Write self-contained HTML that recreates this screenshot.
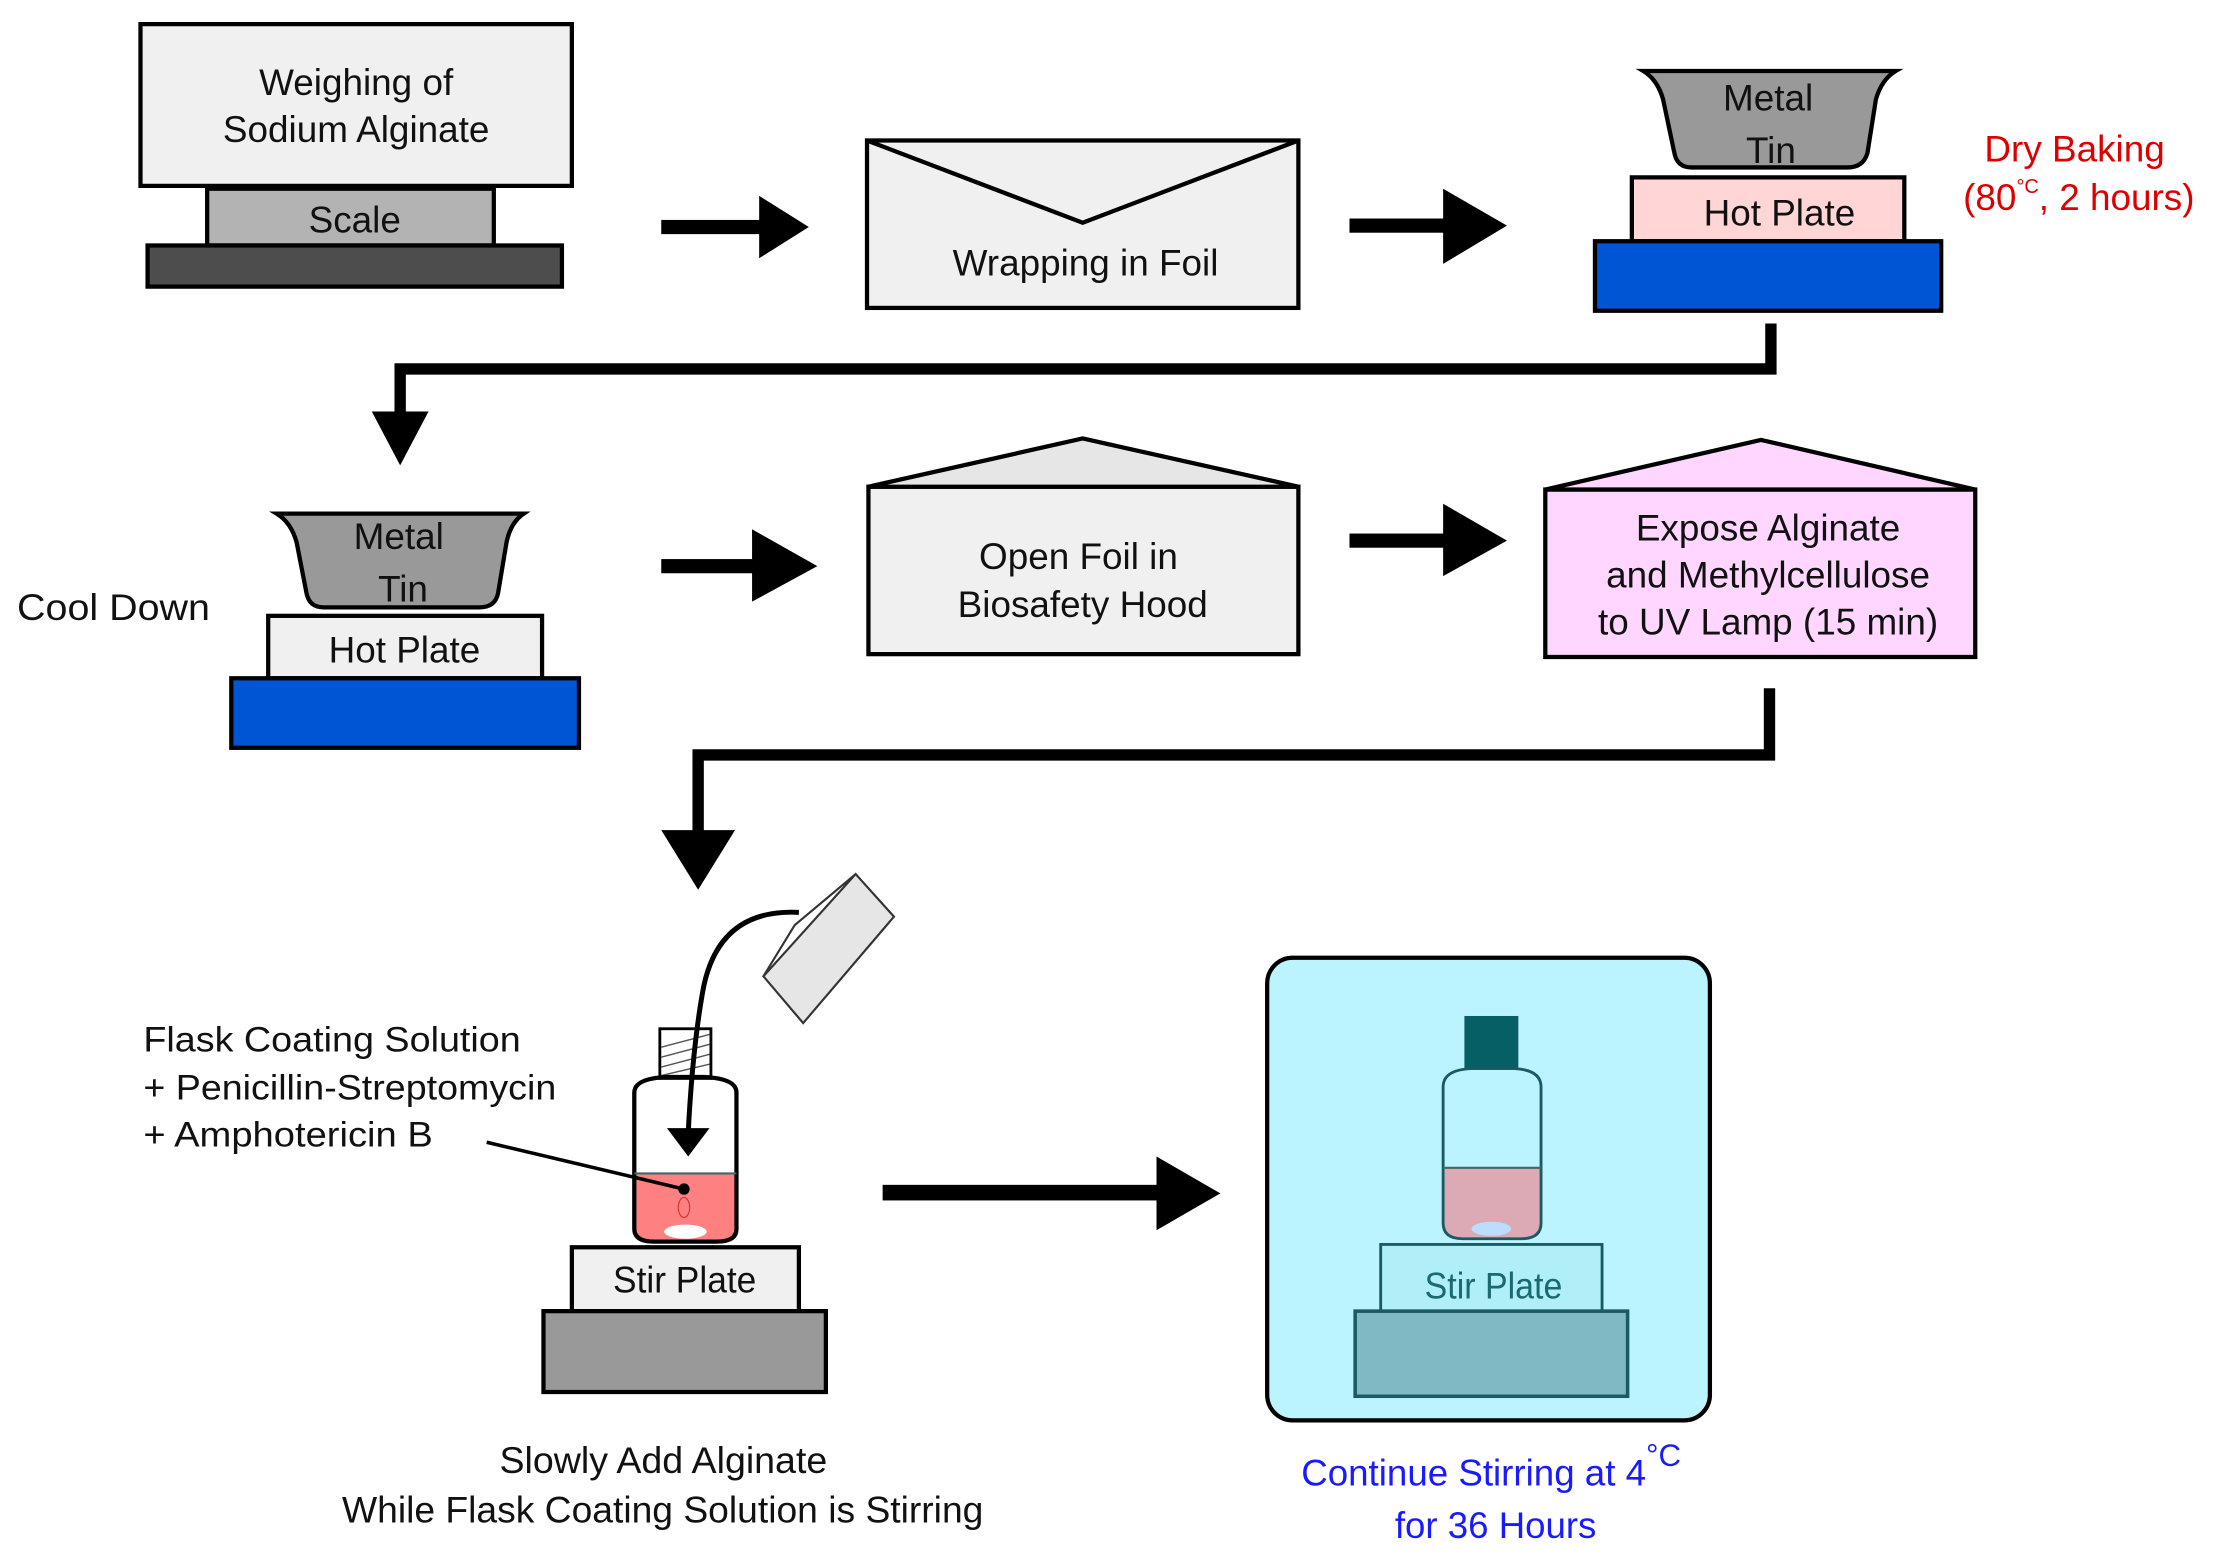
<!DOCTYPE html>
<html><head><meta charset="utf-8"><style>
html,body{margin:0;padding:0;background:#fff;}
svg{display:block;}
text{font-family:"Liberation Sans","DejaVu Sans",sans-serif;}
</style></head><body>
<svg width="2225" height="1563" viewBox="0 0 1568 1101.5" preserveAspectRatio="none" xmlns="http://www.w3.org/2000/svg">
<g stroke="#000" stroke-width="3">
<rect x="99" y="17" width="304" height="114" fill="#f0f0f0"/>
<rect x="146" y="133" width="202" height="40" fill="#b3b3b3"/>
<rect x="104" y="173" width="292" height="29" fill="#4d4d4d"/>
<rect x="611" y="99" width="304" height="118" fill="#f0f0f0"/>
<polyline points="611,99 763,157 915,99" fill="none"/>
<path d="M1158,50 L1336,50 Q1326,56 1322,70 L1316,108 Q1313,118 1302,118 L1192,118 Q1182,118 1180,108 L1172,70 Q1168,56 1158,50 Z" fill="#999"/>
<rect x="1150" y="125" width="192" height="45" fill="#ffd5d5"/>
<rect x="1124" y="170" width="244" height="49" fill="#0055d4"/>
<path d="M195,362 L369,362 Q360,368 357,382 L351,418 Q349,428 338,428 L228,428 Q218,428 216,418 L209,382 Q205,368 195,362 Z" fill="#999"/>
<rect x="189" y="434" width="193" height="44" fill="#f0f0f0"/>
<rect x="163" y="478" width="245" height="49" fill="#0055d4"/>
<rect x="612" y="343" width="303" height="118" fill="#f0f0f0"/>
<polygon points="612,343 763,309 915,343" fill="#e6e6e6"/>
<rect x="1089" y="345" width="303" height="118" fill="#ffd6ff"/>
<polygon points="1089,345 1241,310 1392,345" fill="#ffd6ff"/>
<rect x="403" y="879" width="160" height="45" fill="#f0f0f0"/>
<rect x="383" y="924" width="199" height="57" fill="#999"/>
<rect x="893" y="675" width="312" height="326" rx="18" fill="#bbf3ff"/>
</g>
<g fill="#000">
<rect x="466" y="155" width="72" height="10"/><polygon points="535,138 570,160 535,182"/>
<rect x="951" y="154" width="70" height="10"/><polygon points="1017,133 1062,159 1017,186"/>
<rect x="466" y="394" width="68" height="10"/><polygon points="530,373 576,399 530,424"/>
<rect x="951" y="376" width="70" height="10"/><polygon points="1017,355 1062,381 1017,406"/>
<rect x="622" y="835" width="196" height="11"/><polygon points="815,815 860,841 815,867"/>
</g>
<g fill="none" stroke="#000" stroke-width="8">
<polyline points="1248,228 1248,260 282,260 282,295"/>
<polyline points="1247,485 1247,532 492,532 492,590"/>
</g>
<polygon points="262,290 302,290 282,328"/>
<polygon points="466,585 518,585 492,627"/>
<!-- flask -->
<rect x="465" y="725" width="36" height="35" fill="#fff" stroke="#000" stroke-width="2"/>
<g stroke="#555" stroke-width="1"><line x1="466" y1="738" x2="500" y2="729"/><line x1="466" y1="745" x2="500" y2="736"/><line x1="466" y1="752" x2="500" y2="743"/><line x1="466" y1="758" x2="500" y2="750"/></g>
<path d="M447,827 L519,827 L519,866 Q519,875 505,875 L461,875 Q447,875 447,866 Z" fill="#ff8080"/>
<path d="M447,770 Q447,760 470,759 L496,759 Q519,760 519,770 L519,866 Q519,875 505,875 L461,875 Q447,875 447,866 Z" fill="none" stroke="#000" stroke-width="3"/>
<line x1="447" y1="827" x2="519" y2="827" stroke="#466" stroke-width="1.5"/>
<ellipse cx="483" cy="868" rx="15" ry="5" fill="#fff"/>
<ellipse cx="482" cy="851" rx="4" ry="7" fill="none" stroke="#c33" stroke-width="0.8"/>
<!-- lamp + cord -->
<path d="M563,643 Q505,640 495,700 Q488,740 485,798" fill="none" stroke="#000" stroke-width="3.5"/>
<polygon points="470,795 500,795 485,815"/>
<g stroke="#333" stroke-width="1.5" fill="#e6e6e6">
<polygon points="603,616 630,646 566,721 538,688"/>
<polyline points="603,616 560,652 538,688" fill="none"/>
</g>
<line x1="343" y1="805" x2="482" y2="838" stroke="#000" stroke-width="2.5"/>
<circle cx="482" cy="838" r="4"/>
<!-- cyan bottle -->
<rect x="1032" y="716" width="38" height="38" fill="#075f66"/>
<path d="M1017,823 L1086,823 L1086,862 Q1086,873 1072,873 L1031,873 Q1017,873 1017,862 Z" fill="#dbaab5"/>
<path d="M1017,766 Q1017,753 1040,753 L1064,753 Q1086,753 1086,766 L1086,862 Q1086,873 1072,873 L1031,873 Q1017,873 1017,862 Z" fill="none" stroke="#1a5a60" stroke-width="2"/>
<line x1="1017" y1="823" x2="1086" y2="823" stroke="#466" stroke-width="1.5"/>
<ellipse cx="1051" cy="866" rx="14" ry="5" fill="#bdf"/>
<rect x="973" y="877" width="156" height="47" fill="#b0eff8" stroke="#1a5a60" stroke-width="2"/>
<rect x="955" y="924" width="192" height="60" fill="#80b9c4" stroke="#1a5a60" stroke-width="2.5"/>
<!-- text -->
<g font-size="26" text-anchor="middle" fill="#111">
<text x="251" y="67">Weighing of</text>
<text x="251" y="100">Sodium Alginate</text>
<text x="250" y="164">Scale</text>
<text x="765" y="194">Wrapping in Foil</text>
<text x="1246" y="78">Metal</text>
<text x="1248" y="115">Tin</text>
<text x="1254" y="159">Hot Plate</text>
<text x="281" y="387">Metal</text>
<text x="284" y="424">Tin</text>
<text x="285" y="467">Hot Plate</text>
<text x="760" y="401">Open Foil in</text>
<text x="763" y="435">Biosafety Hood</text>
<text x="1246" y="381">Expose Alginate</text>
<text x="1246" y="414">and Methylcellulose</text>
<text x="1246" y="447">to UV Lamp (15 min)</text>
</g>
<g font-size="26" fill="#111">
<text x="12" y="437" textLength="136" lengthAdjust="spacingAndGlyphs">Cool Down</text>
<text x="432" y="911" textLength="101" lengthAdjust="spacingAndGlyphs">Stir Plate</text>
<text x="1004" y="915" fill="#1a6a70" textLength="97" lengthAdjust="spacingAndGlyphs">Stir Plate</text>
<text x="352" y="1038" textLength="231" lengthAdjust="spacingAndGlyphs">Slowly Add Alginate</text>
<text x="241" y="1073" textLength="452" lengthAdjust="spacingAndGlyphs">While Flask Coating Solution is Stirring</text>
</g>
<g font-size="26" fill="#dd0000" text-anchor="middle">
<text x="1462" y="114">Dry Baking</text>
<text x="1465" y="148">(80<tspan font-size="14" dy="-12">°C</tspan><tspan dy="12">, 2 hours)</tspan></text>
</g>
<g font-size="25" fill="#111">
<text x="101" y="741" textLength="266" lengthAdjust="spacingAndGlyphs">Flask Coating Solution</text>
<text x="101" y="775" textLength="291" lengthAdjust="spacingAndGlyphs">+ Penicillin-Streptomycin</text>
<text x="101" y="808" textLength="204" lengthAdjust="spacingAndGlyphs">+ Amphotericin B</text>
</g>
<g font-size="26" fill="#1a1aff">
<text x="917" y="1047" textLength="243" lengthAdjust="spacingAndGlyphs">Continue Stirring at 4</text>
<text x="1160" y="1033" font-size="22">°C</text>
<text x="983" y="1084" textLength="142" lengthAdjust="spacingAndGlyphs">for 36 Hours</text>
</g>
</svg>
</body></html>
